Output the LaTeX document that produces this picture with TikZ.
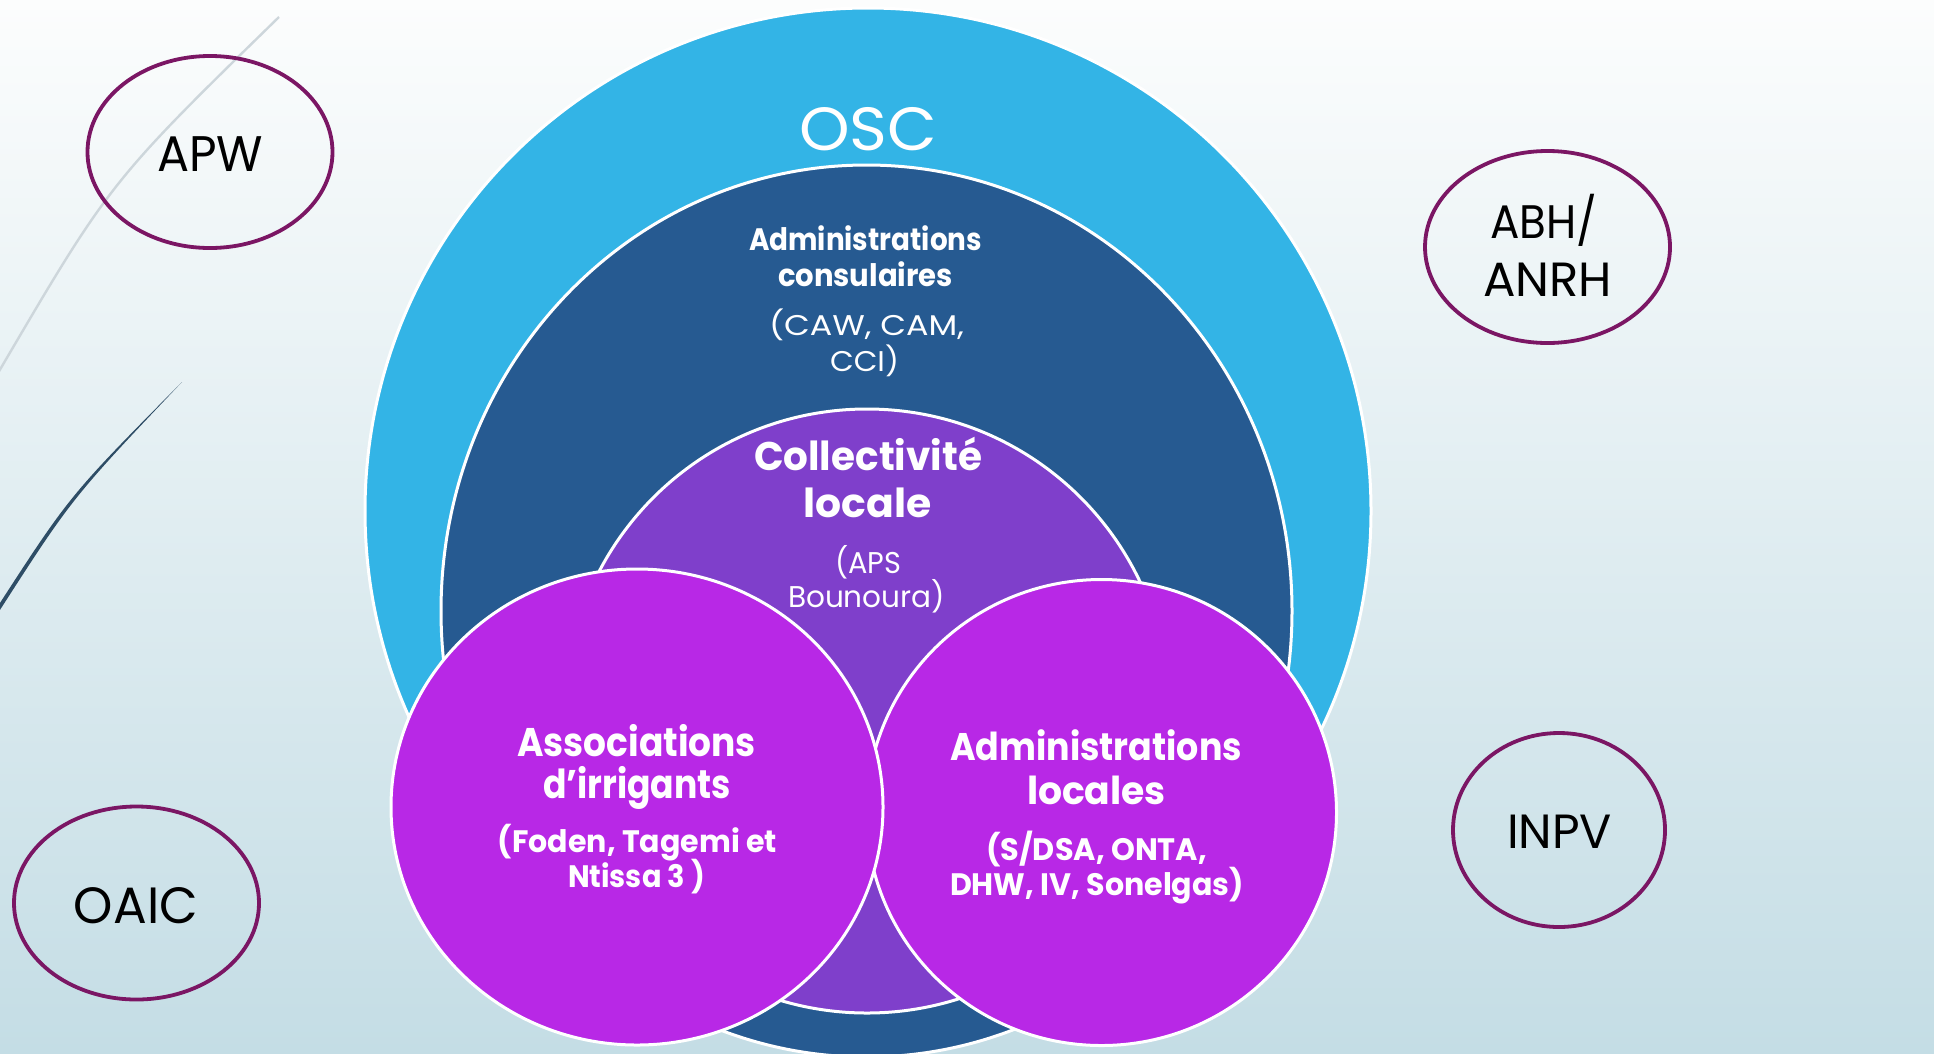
\documentclass[tikz,border=0pt]{standalone}
\usepackage{fontspec}
\setmainfont{Poppins}
\usepackage{graphicx}
\usetikzlibrary{shapes.geometric}
\definecolor{lblue}{HTML}{33B4E6}
\definecolor{dblue}{HTML}{265A91}
\definecolor{cpurple}{HTML}{7F3FCB}
\definecolor{cmag}{HTML}{B828E6}
\definecolor{ering}{HTML}{7B1664}
\definecolor{bgtop}{HTML}{FCFDFD}
\definecolor{bgbot}{HTML}{C4DDE5}
\definecolor{decogray}{HTML}{CDD6DB}
\definecolor{decodark}{HTML}{2E4D66}
\newcommand\tline[6]{\node[txt,#1] (#2) at (#3,#4) {\resizebox{#5pt}{\height}{#6}};}
\tikzset{
  txt/.style={anchor=base, inner sep=0pt, outer sep=0pt},
  wr/.style={text=white, font=\fontsize{#1}{#1}\selectfont},
  wb/.style={text=white, font=\fontsize{#1}{#1}\selectfont\bfseries},
  kr/.style={text=black, font=\fontsize{#1}{#1}\selectfont},
  bigshape/.style={draw=white, line width=3pt},
  smallring/.style={draw=ering, line width=3.8pt, ellipse, inner sep=0pt},
}
\begin{document}
\begin{tikzpicture}[x=1pt, y=-1pt]
\useasboundingbox (0,0) rectangle (1934,1053);
\shade[top color=bgtop, bottom color=bgbot] (0,0) rectangle (1934,1053);
% decorative curves
\draw[decogray, line width=2.4pt] (279,17) .. controls (110,182) .. (-2,373);
\fill[decodark] (182,382) .. controls (70,495) .. (-2,606) -- (-2,613) .. controls (72,498) .. (182,382) -- cycle;
% big shapes
\path[bigshape, fill=lblue] (868,511) ellipse [x radius=503, y radius=503];
\path[bigshape, fill=dblue] (866.5,611) ellipse [x radius=425.5, y radius=446];
\path[bigshape, fill=cpurple] (867,711) ellipse [x radius=302, y radius=302];
\path[bigshape, fill=cmag] (1101.5,812.5) ellipse [x radius=235, y radius=233];
\path[bigshape, fill=cmag] (637,807) ellipse [x radius=246, y radius=238];
% small ellipses
\node[smallring, minimum width=245, minimum height=192] (apwring) at (210,152) {};
\node[smallring, minimum width=245, minimum height=192] (abhring) at (1547.5,247) {};
\node[smallring, minimum width=212, minimum height=194] (inpvring) at (1559,830) {};
\node[smallring, minimum width=245, minimum height=193] (oaicring) at (136.5,903) {};
% texts
\tline{wr=61}{osc}{868}{150}{138}{OSC}
\tline{wb=31}{ac1}{865.5}{250}{233}{Administrations}
\tline{wb=31}{ac2}{865.5}{286}{175}{consulaires}
\tline{wr=28.5}{ac3}{866.5}{335}{195}{(CAW, CAM,}
\tline{wr=28.5}{ac4}{864.5}{371}{69}{CCI)}
\tline{wb=40}{cl1}{868}{470}{228}{Collectivité}
\tline{wb=40}{cl2}{867.5}{517}{128}{locale}
\tline{wr=30}{cl3}{868}{573}{66}{(APS}
\tline{wr=30}{cl4}{866.5}{607}{157}{Bounoura)}
\tline{wb=40}{ai1}{636.5}{756}{239}{Associations}
\tline{wb=40}{ai2}{637}{798}{188}{d’irrigants}
\tline{wb=31}{ai3}{637.5}{852}{279}{(Foden, Tagemi et}
\tline{wb=31}{ai4}{636.5}{887}{137}{Ntissa 3 )}
\tline{wb=38.5}{al1}{1096}{760}{292}{Administrations}
\tline{wb=38.5}{al2}{1096.5}{804}{139}{locales}
\tline{wb=31}{al3}{1096.5}{860}{221}{(S/DSA, ONTA,}
\tline{wb=31}{al4}{1097}{895}{294}{DHW, IV, Sonelgas)}
\tline{kr=50}{apw}{210}{171}{106}{APW}
\tline{kr=47}{abh1}{1543.5}{238}{107}{ABH/}
\tline{kr=48}{abh2}{1547.5}{296}{129}{ANRH}
\tline{kr=48}{inpv}{1559.5}{848}{105}{INPV}
\tline{kr=51}{oaic}{136}{923}{124}{OAIC}
\end{tikzpicture}
\end{document}
